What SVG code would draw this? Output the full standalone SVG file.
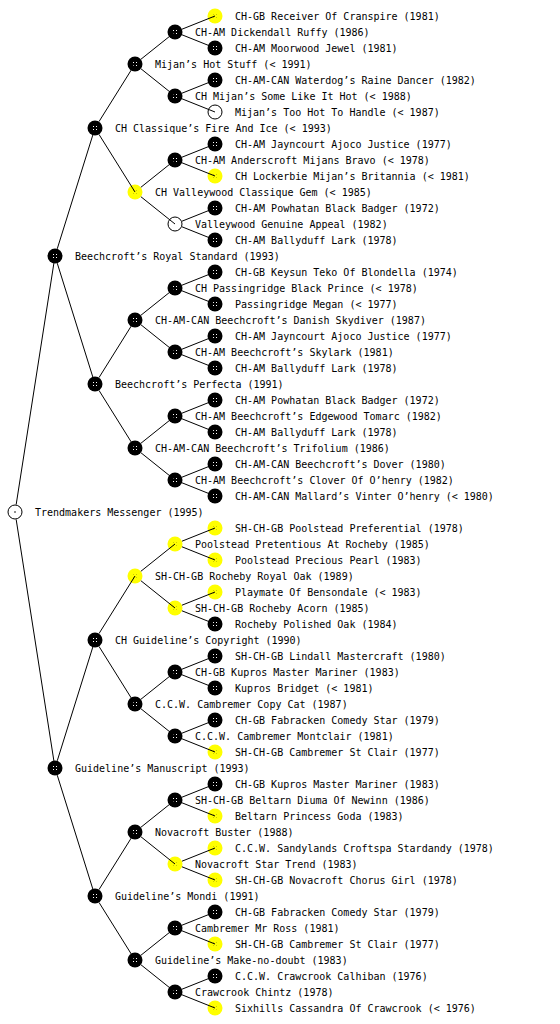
<svg xmlns="http://www.w3.org/2000/svg" xmlns:xlink="http://www.w3.org/1999/xlink" width="560" height="1024" viewBox="0 0 560 1024">
<style>
text{font-family:"DejaVu Sans Mono","Liberation Mono",monospace;font-size:10px;fill:#000}
#edges path{fill:none;stroke:#000;stroke-width:1}
</style>
<defs>
<pattern id="pk" width="3" height="3" patternUnits="userSpaceOnUse"><rect width="3" height="3" fill="#000"/><rect x="1" y="1" width="1" height="1" fill="#fff"/></pattern>
<pattern id="py" width="3" height="3" patternUnits="userSpaceOnUse"><rect width="3" height="3" fill="#ff0"/><rect x="1" y="1" width="1" height="1" fill="#cc0"/></pattern>
<g id="nb"><circle r="7.5" fill="#000"/><circle r="4" fill="url(#pk)"/></g>
<g id="ny"><circle r="7.5" fill="#ff0"/><circle r="4" fill="url(#py)"/></g>
<g id="nw"><circle r="7" fill="#fff" stroke="#000" stroke-width="1"/></g>
</defs>
<rect width="560" height="1024" fill="#fff"/>

<g id="n32"><use href="#nw" x="15" y="512"/><circle cx="15" cy="512" r="0.8" fill="#000"/><text x="35" y="516">Trendmakers Messenger (1995)</text></g>

<g id="n16"><use href="#nb" x="55" y="256"/><text x="75" y="260">Beechcroft’s Royal Standard (1993)</text></g>
<g id="n48"><use href="#nb" x="55" y="768"/><text x="75" y="772">Guideline’s Manuscript (1993)</text></g>

<g id="n8"><use href="#nb" x="95" y="128"/><text x="115" y="132">CH Classique’s Fire And Ice (&lt; 1993)</text></g>
<g id="n24"><use href="#nb" x="95" y="384"/><text x="115" y="388">Beechcroft’s Perfecta (1991)</text></g>
<g id="n40"><use href="#nb" x="95" y="640"/><text x="115" y="644">CH Guideline’s Copyright (1990)</text></g>
<g id="n56"><use href="#nb" x="95" y="896"/><text x="115" y="900">Guideline’s Mondi (1991)</text></g>

<g id="n4"><use href="#nb" x="135" y="64"/><text x="155" y="68">Mijan’s Hot Stuff (&lt; 1991)</text></g>
<g id="n12"><use href="#ny" x="135" y="192"/><text x="155" y="196">CH Valleywood Classique Gem (&lt; 1985)</text></g>
<g id="n20"><use href="#nb" x="135" y="320"/><text x="155" y="324">CH-AM-CAN Beechcroft’s Danish Skydiver (1987)</text></g>
<g id="n28"><use href="#nb" x="135" y="448"/><text x="155" y="452">CH-AM-CAN Beechcroft’s Trifolium (1986)</text></g>
<g id="n36"><use href="#ny" x="135" y="576"/><text x="155" y="580">SH-CH-GB Rocheby Royal Oak (1989)</text></g>
<g id="n44"><use href="#nb" x="135" y="704"/><text x="155" y="708">C.C.W. Cambremer Copy Cat (1987)</text></g>
<g id="n52"><use href="#nb" x="135" y="832"/><text x="155" y="836">Novacroft Buster (1988)</text></g>
<g id="n60"><use href="#nb" x="135" y="960"/><text x="155" y="964">Guideline’s Make-no-doubt (1983)</text></g>

<g id="n2"><use href="#nb" x="175" y="32"/><text x="195" y="36">CH-AM Dickendall Ruffy (1986)</text></g>
<g id="n6"><use href="#nb" x="175" y="96"/><text x="195" y="100">CH Mijan’s Some Like It Hot (&lt; 1988)</text></g>
<g id="n10"><use href="#nb" x="175" y="160"/><text x="195" y="164">CH-AM Anderscroft Mijans Bravo (&lt; 1978)</text></g>
<g id="n14"><use href="#nw" x="175" y="224"/><text x="195" y="228">Valleywood Genuine Appeal (1982)</text></g>
<g id="n18"><use href="#nb" x="175" y="288"/><text x="195" y="292">CH Passingridge Black Prince (&lt; 1978)</text></g>
<g id="n22"><use href="#nb" x="175" y="352"/><text x="195" y="356">CH-AM Beechcroft’s Skylark (1981)</text></g>
<g id="n26"><use href="#nb" x="175" y="416"/><text x="195" y="420">CH-AM Beechcroft’s Edgewood Tomarc (1982)</text></g>
<g id="n30"><use href="#nb" x="175" y="480"/><text x="195" y="484">CH-AM Beechcroft’s Clover Of O’henry (1982)</text></g>
<g id="n34"><use href="#ny" x="175" y="544"/><text x="195" y="548">Poolstead Pretentious At Rocheby (1985)</text></g>
<g id="n38"><use href="#ny" x="175" y="608"/><text x="195" y="612">SH-CH-GB Rocheby Acorn (1985)</text></g>
<g id="n42"><use href="#nb" x="175" y="672"/><text x="195" y="676">CH-GB Kupros Master Mariner (1983)</text></g>
<g id="n46"><use href="#nb" x="175" y="736"/><text x="195" y="740">C.C.W. Cambremer Montclair (1981)</text></g>
<g id="n50"><use href="#nb" x="175" y="800"/><text x="195" y="804">SH-CH-GB Beltarn Diuma Of Newinn (1986)</text></g>
<g id="n54"><use href="#ny" x="175" y="864"/><text x="195" y="868">Novacroft Star Trend (1983)</text></g>
<g id="n58"><use href="#nb" x="175" y="928"/><text x="195" y="932">Cambremer Mr Ross (1981)</text></g>
<g id="n62"><use href="#nb" x="175" y="992"/><text x="195" y="996">Crawcrook Chintz (1978)</text></g>

<g id="n1"><use href="#ny" x="215" y="16"/><text x="235" y="20">CH-GB Receiver Of Cranspire (1981)</text></g>
<g id="n3"><use href="#nb" x="215" y="48"/><text x="235" y="52">CH-AM Moorwood Jewel (1981)</text></g>
<g id="n5"><use href="#nb" x="215" y="80"/><text x="235" y="84">CH-AM-CAN Waterdog’s Raine Dancer (1982)</text></g>
<g id="n7"><use href="#nw" x="215" y="112"/><text x="235" y="116">Mijan’s Too Hot To Handle (&lt; 1987)</text></g>
<g id="n9"><use href="#nb" x="215" y="144"/><text x="235" y="148">CH-AM Jayncourt Ajoco Justice (1977)</text></g>
<g id="n11"><use href="#ny" x="215" y="176"/><text x="235" y="180">CH Lockerbie Mijan’s Britannia (&lt; 1981)</text></g>
<g id="n13"><use href="#nb" x="215" y="208"/><text x="235" y="212">CH-AM Powhatan Black Badger (1972)</text></g>
<g id="n15"><use href="#nb" x="215" y="240"/><text x="235" y="244">CH-AM Ballyduff Lark (1978)</text></g>
<g id="n17"><use href="#nb" x="215" y="272"/><text x="235" y="276">CH-GB Keysun Teko Of Blondella (1974)</text></g>
<g id="n19"><use href="#nb" x="215" y="304"/><text x="235" y="308">Passingridge Megan (&lt; 1977)</text></g>
<g id="n21"><use href="#nb" x="215" y="336"/><text x="235" y="340">CH-AM Jayncourt Ajoco Justice (1977)</text></g>
<g id="n23"><use href="#nb" x="215" y="368"/><text x="235" y="372">CH-AM Ballyduff Lark (1978)</text></g>
<g id="n25"><use href="#nb" x="215" y="400"/><text x="235" y="404">CH-AM Powhatan Black Badger (1972)</text></g>
<g id="n27"><use href="#nb" x="215" y="432"/><text x="235" y="436">CH-AM Ballyduff Lark (1978)</text></g>
<g id="n29"><use href="#nb" x="215" y="464"/><text x="235" y="468">CH-AM-CAN Beechcroft’s Dover (1980)</text></g>
<g id="n31"><use href="#nb" x="215" y="496"/><text x="235" y="500">CH-AM-CAN Mallard’s Vinter O’henry (&lt; 1980)</text></g>
<g id="n33"><use href="#ny" x="215" y="528"/><text x="235" y="532">SH-CH-GB Poolstead Preferential (1978)</text></g>
<g id="n35"><use href="#ny" x="215" y="560"/><text x="235" y="564">Poolstead Precious Pearl (1983)</text></g>
<g id="n37"><use href="#ny" x="215" y="592"/><text x="235" y="596">Playmate Of Bensondale (&lt; 1983)</text></g>
<g id="n39"><use href="#nb" x="215" y="624"/><text x="235" y="628">Rocheby Polished Oak (1984)</text></g>
<g id="n41"><use href="#nb" x="215" y="656"/><text x="235" y="660">SH-CH-GB Lindall Mastercraft (1980)</text></g>
<g id="n43"><use href="#nb" x="215" y="688"/><text x="235" y="692">Kupros Bridget (&lt; 1981)</text></g>
<g id="n45"><use href="#nb" x="215" y="720"/><text x="235" y="724">CH-GB Fabracken Comedy Star (1979)</text></g>
<g id="n47"><use href="#ny" x="215" y="752"/><text x="235" y="756">SH-CH-GB Cambremer St Clair (1977)</text></g>
<g id="n49"><use href="#nb" x="215" y="784"/><text x="235" y="788">CH-GB Kupros Master Mariner (1983)</text></g>
<g id="n51"><use href="#ny" x="215" y="816"/><text x="235" y="820">Beltarn Princess Goda (1983)</text></g>
<g id="n53"><use href="#ny" x="215" y="848"/><text x="235" y="852">C.C.W. Sandylands Croftspa Stardandy (1978)</text></g>
<g id="n55"><use href="#ny" x="215" y="880"/><text x="235" y="884">SH-CH-GB Novacroft Chorus Girl (1978)</text></g>
<g id="n57"><use href="#nb" x="215" y="912"/><text x="235" y="916">CH-GB Fabracken Comedy Star (1979)</text></g>
<g id="n59"><use href="#ny" x="215" y="944"/><text x="235" y="948">SH-CH-GB Cambremer St Clair (1977)</text></g>
<g id="n61"><use href="#nb" x="215" y="976"/><text x="235" y="980">C.C.W. Crawcrook Calhiban (1976)</text></g>
<g id="n63"><use href="#ny" x="215" y="1008"/><text x="235" y="1012">Sixhills Cassandra Of Crawcrook (&lt; 1976)</text></g>

<g id="edges">
<path d="M16.16 504.59L55 256M16.16 519.41L55 768"/>
<path d="M57.24 248.84L95 128M57.24 263.16L95 384M57.24 760.84L95 640M57.24 775.16L95 896"/>
<path d="M98.97 121.64L135 64M98.97 134.36L135 192M98.97 377.64L135 320M98.97 390.36L135 448M98.97 633.64L135 576M98.97 646.36L135 704M98.97 889.64L135 832M98.97 902.36L135 960"/>
<path d="M140.86 59.31L175 32M140.86 68.69L175 96M140.86 187.31L175 160M140.86 196.69L175 224M140.86 315.31L175 288M140.86 324.69L175 352M140.86 443.31L175 416M140.86 452.69L175 480M140.86 571.31L175 544M140.86 580.69L175 608M140.86 699.31L175 672M140.86 708.69L175 736M140.86 827.31L175 800M140.86 836.69L175 864M140.86 955.31L175 928M140.86 964.69L175 992"/>
<path d="M181.96 29.21L215 16M181.96 34.79L215 48M181.96 93.21L215 80M181.96 98.79L215 112M181.96 157.21L215 144M181.96 162.79L215 176M181.96 221.21L215 208M181.96 226.79L215 240M181.96 285.21L215 272M181.96 290.79L215 304M181.96 349.21L215 336M181.96 354.79L215 368M181.96 413.21L215 400M181.96 418.79L215 432M181.96 477.21L215 464M181.96 482.79L215 496M181.96 541.21L215 528M181.96 546.79L215 560M181.96 605.21L215 592M181.96 610.79L215 624M181.96 669.21L215 656M181.96 674.79L215 688M181.96 733.21L215 720M181.96 738.79L215 752M181.96 797.21L215 784M181.96 802.79L215 816M181.96 861.21L215 848M181.96 866.79L215 880M181.96 925.21L215 912M181.96 930.79L215 944M181.96 989.21L215 976M181.96 994.79L215 1008"/>
</g>
</svg>
